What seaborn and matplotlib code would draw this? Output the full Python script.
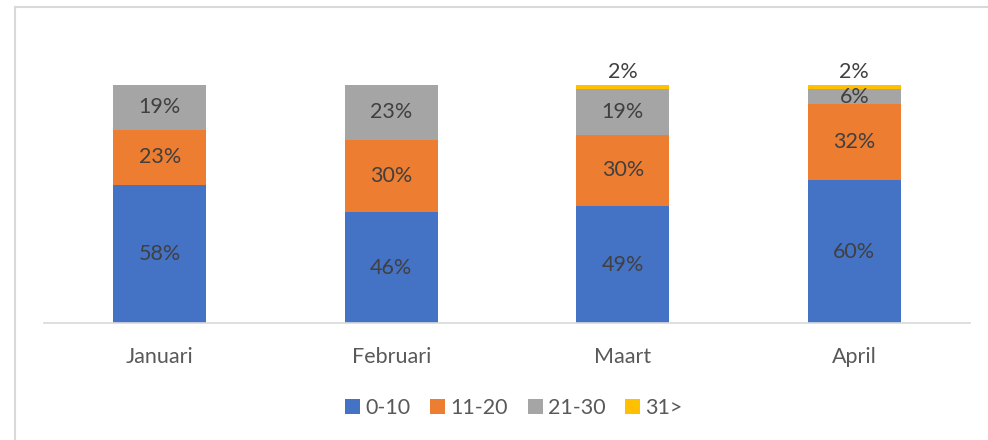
import numpy as np
import pandas as pd
import seaborn as sns
import matplotlib.pyplot as plt
from matplotlib.patches import Rectangle

months = ["Januari", "Februari", "Maart", "April"]
series_names = ["0-10", "11-20", "21-30", "31>"]
v_0_10 = [58, 46.4, 49, 60]
v_11_20 = [23, 30.4, 30, 32]
v_21_30 = [19, 23.2, 19, 6]
v_31 = [0, 0, 2, 2]
colors = ["#4472C4", "#ED7D31", "#A5A5A5", "#FFC000"]

sns.set_style("white")
plt.rcParams["font.family"] = ["Lato", "DejaVu Sans"]

fig = plt.figure(figsize=(9.88, 4.4), dpi=100)
ax = fig.add_axes([44 / 988, 1 - 323 / 440, 926 / 988, (323 - 37) / 440])

bottom = np.zeros(len(months))
for name, vals, c in zip(series_names, [v_0_10, v_11_20, v_21_30, v_31], colors):
    vals = np.array(vals, dtype=float)
    sns.barplot(x=months, y=vals, bottom=bottom, color=c, width=0.4,
                label=name, ax=ax, saturation=1, linewidth=0)
    cont = ax.containers[-1]
    if name == "31>":
        labels = ["{:.0f}%".format(v) if v > 0 else "" for v in vals]
        ax.bar_label(cont, labels=labels, label_type="edge", padding=2,
                     fontsize=15.5, color="#404040")
    else:
        labels = ["{:.0f}%".format(v) for v in vals]
        ax.bar_label(cont, labels=labels, label_type="center",
                     fontsize=15.5, color="#404040")
    bottom = bottom + vals

ax.set_ylim(0, 120)
ax.set_xlim(-0.5, 3.5)
ax.set_yticks([])
for s in ["top", "right", "left"]:
    ax.spines[s].set_visible(False)
ax.spines["bottom"].set_color("#d9d9d9")
ax.spines["bottom"].set_linewidth(1.2)
ax.tick_params(axis="x", length=0, pad=17, labelsize=15.5, labelcolor="#595959")
ax.set_xlabel("")

handles, lbls = ax.get_legend_handles_labels()
fig.legend(handles, lbls, loc="center", bbox_to_anchor=(514 / 988, 1 - 408 / 440),
           ncol=4, frameon=False, fontsize=15.5, labelcolor="#595959",
           handlelength=0.7, handleheight=0.7, handletextpad=0.25, columnspacing=0.9)
if ax.get_legend():
    ax.get_legend().remove()

fig.patches.append(Rectangle((15 / 988, -0.1), 1.1, 1 - 7 / 440 + 0.1,
                             transform=fig.transFigure, fill=False,
                             edgecolor="#d9d9d9", linewidth=1.5))

fig.savefig("out.png", dpi=100)
